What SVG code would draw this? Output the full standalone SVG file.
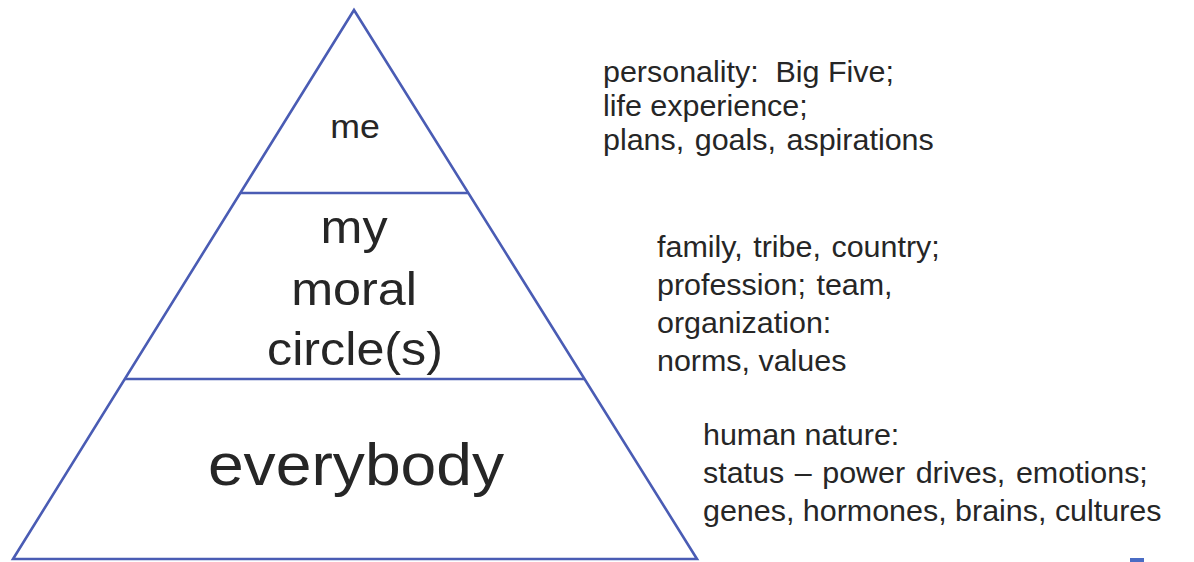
<svg xmlns="http://www.w3.org/2000/svg" width="1194" height="562" viewBox="0 0 1194 562">
<style>
.ln{stroke:#4a5cb4;stroke-width:2.6;fill:none;stroke-linejoin:miter}
.t{font-family:"Liberation Sans",Arial,sans-serif;fill:#262626}
.c{text-anchor:middle}
.r{font-size:29px}
</style>
<rect width="1194" height="562" fill="#ffffff"/>
<g id="connectors">
<polygon class="ln" points="354,10 13,559 697,559"/>
<line class="ln" x1="240" y1="193" x2="468" y2="193"/>
<line class="ln" x1="125" y1="379" x2="584" y2="379"/>
</g>
<g id="node-me">
<text class="t c" transform="translate(355,138) scale(1.05,1)" font-size="34">me</text>
</g>
<g id="node-moral">
<text class="t c" transform="translate(354,243) scale(1.07,1)" font-size="47">my</text>
<text class="t c" transform="translate(354,305) scale(1.07,1)" font-size="47">moral</text>
<text class="t c" transform="translate(355,365) scale(1.07,1)" font-size="47">circle(s)</text>
</g>
<g id="node-everybody">
<text class="t c" transform="translate(356,485) scale(1.07,1)" font-size="60">everybody</text>
</g>
<g id="desc-me">
<text class="t r" transform="translate(603,82) scale(1.05,1)" xml:space="preserve">personality:  Big Five;</text>
<text class="t r" transform="translate(603,116) scale(1.05,1)">life experience;</text>
<text class="t r" transform="translate(603,150) scale(1.05,1)" word-spacing="2">plans, goals, aspirations</text>
</g>
<g id="desc-moral">
<text class="t r" transform="translate(657,257) scale(1.05,1)" word-spacing="2">family, tribe, country;</text>
<text class="t r" transform="translate(657,295) scale(1.05,1)" word-spacing="2">profession; team,</text>
<text class="t r" transform="translate(657,333) scale(1.05,1)">organization:</text>
<text class="t r" transform="translate(657,371) scale(1.05,1)">norms, values</text>
</g>
<g id="desc-everybody">
<text class="t r" transform="translate(703,445) scale(1.05,1)">human nature:</text>
<text class="t r" transform="translate(703,483) scale(1.05,1)" word-spacing="2">status – power drives, emotions;</text>
<text class="t r" transform="translate(703,521) scale(1.05,1)">genes, hormones, brains, cultures</text>
</g>
<rect x="1130" y="558" width="14" height="4" fill="#4a6cc4"/>
</svg>
